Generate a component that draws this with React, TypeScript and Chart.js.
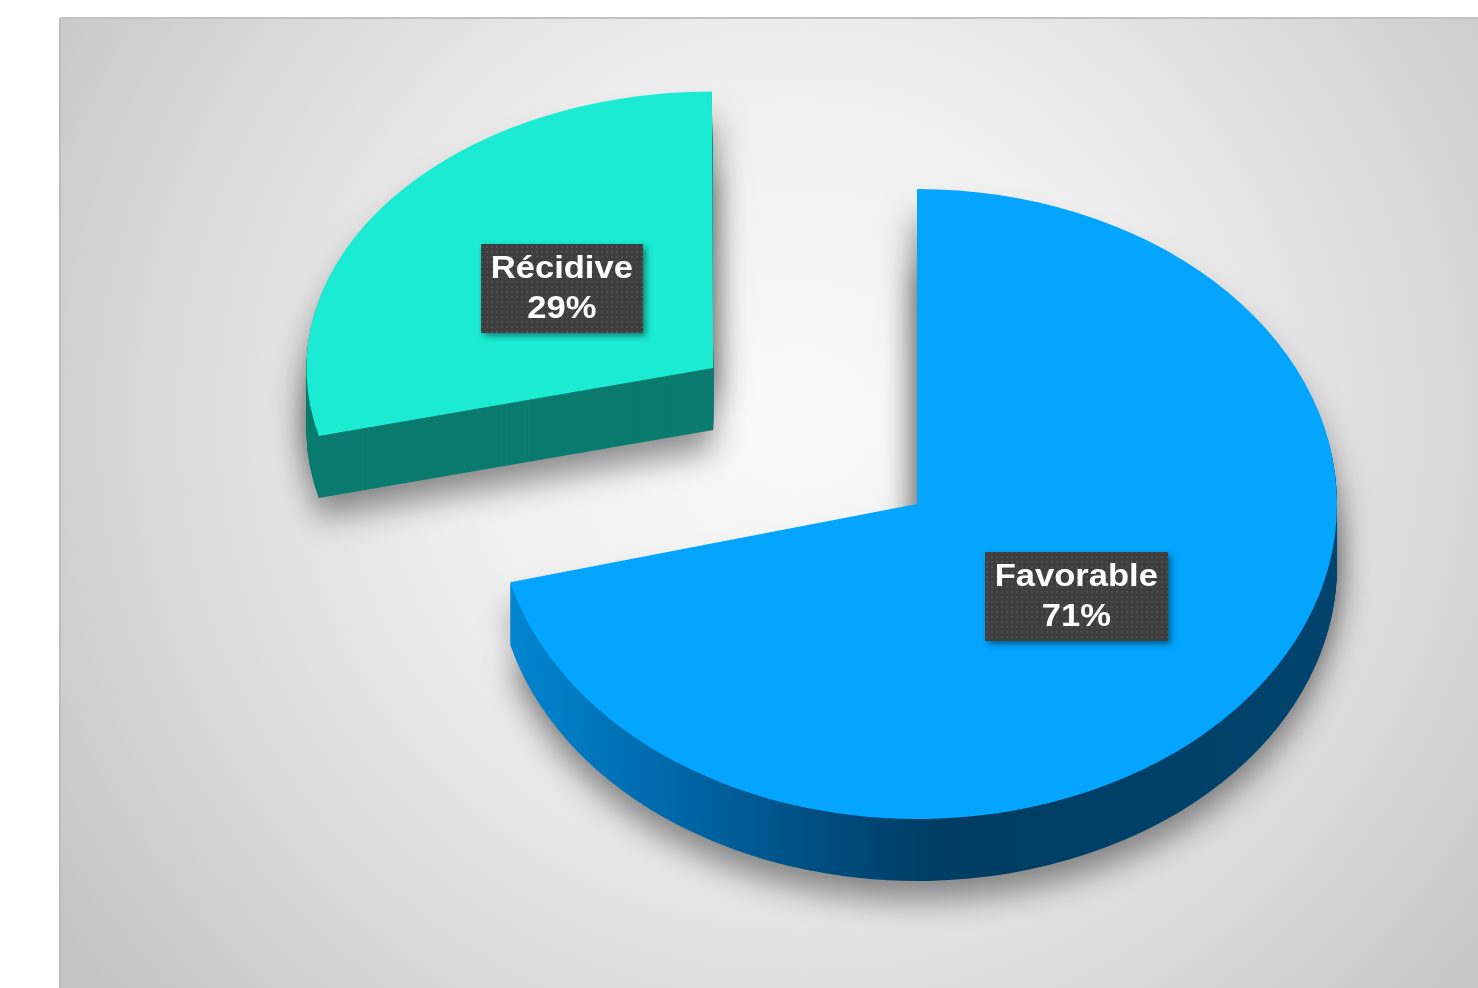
import { useEffect, useRef } from 'react';
import { Chart, registerables } from 'chart.js';

Chart.register(...registerables);

// ---- data ----
const categories = ['Favorable', 'Récidive'];
const shares = [71, 29];
const percentLabels = ['71%', '29%'];

// ---- styling ----
const topColors = ['#03A5FF', '#1BEBD3'];
const sliceTilt = [0.75, 0.68]; // per-slice vertical squash (fake perspective)
const sliceShrink = [1, 0.95]; // per-slice size factor (fake perspective)
const W = 1478;
const H = 988;
const KC = 0.86; // squash applied to the explosion shift
const DEPTH = 62; // thickness of the slab
const TEXT_STRETCH = 1.08;

function makePattern(ctx: CanvasRenderingContext2D) {
  const c = document.createElement('canvas');
  c.width = 5;
  c.height = 5;
  const p = c.getContext('2d')!;
  p.fillStyle = '#3e3e3e';
  p.fillRect(0, 0, 5, 5);
  p.fillStyle = '#4f4f4f';
  p.fillRect(1, 1, 2, 2);
  return ctx.createPattern(c, 'repeat');
}

function sliceGeom(arc: any, i: number) {
  const mid = (arc.startAngle + arc.endAngle) / 2;
  const off = (arc.options.offset || 0) / 4;
  const ox = Math.cos(mid) * off;
  const oy = Math.sin(mid) * off;
  const wx = arc.x + ox; // slice centre, unsquashed
  const wy = arc.y + oy;
  const sy = arc.y + oy * KC; // slice centre on screen
  return { mid, off, ox, oy, wx, wy, sy, k: sliceTilt[i], s: sliceShrink[i] };
}

const pie3d = {
  id: 'pie3d',
  beforeDraw(chart: any) {
    const ctx: CanvasRenderingContext2D = chart.ctx;
    ctx.save();
    ctx.fillStyle = '#ffffff';
    ctx.fillRect(0, 0, W, H);
    const g = ctx.createRadialGradient(800, 420, 0, 800, 420, 900);
    g.addColorStop(0, '#fafafa');
    g.addColorStop(0.4, '#eeeeee');
    g.addColorStop(0.8, '#d3d3d3');
    g.addColorStop(1, '#c4c4c4');
    ctx.fillStyle = g;
    ctx.fillRect(60, 18, W - 60, H - 18);
    ctx.fillStyle = '#c2c2c2';
    ctx.fillRect(60, 17, W - 60, 2);
    ctx.fillStyle = '#bdbdbd';
    ctx.fillRect(59, 18, 2, H - 18);
    ctx.restore();
  },
  beforeDatasetsDraw(chart: any) {
    const ctx: CanvasRenderingContext2D = chart.ctx;
    const meta = chart.getDatasetMeta(0);
    const arcs = meta.data;
    if (!arcs.length) return;
    const drawArc = (arc: any, i: number, fill: any, dx: number, dy: number) => {
      const gm = sliceGeom(arc, i);
      const clone = Object.create(arc);
      clone.options = Object.assign({}, arc.options, { backgroundColor: fill, borderWidth: 0 });
      ctx.save();
      ctx.translate(dx, dy);
      ctx.translate(gm.wx, gm.sy);
      ctx.scale(gm.s, gm.k * gm.s);
      ctx.translate(-gm.wx, -gm.wy);
      clone.draw(ctx);
      ctx.restore();
    };

    // soft floor shadow
    ctx.save();
    ctx.shadowColor = 'rgba(0,0,0,0.4)';
    ctx.shadowBlur = 30;
    ctx.shadowOffsetX = 0;
    ctx.shadowOffsetY = 20;
    arcs.forEach((arc: any, i: number) => drawArc(arc, i, '#9a9a9a', 0, DEPTH));
    ctx.restore();
    ctx.save();
    ctx.shadowColor = 'rgba(0,0,0,0.5)';
    ctx.shadowBlur = 34;
    ctx.shadowOffsetX = 0;
    ctx.shadowOffsetY = 0;
    arcs.forEach((arc: any, i: number) => drawArc(arc, i, '#9a9a9a', 0, DEPTH / 2));
    ctx.restore();

    // side walls
    const blueWall = ctx.createLinearGradient(510, 0, 1340, 0);
    blueWall.addColorStop(0, '#0086D0');
    blueWall.addColorStop(0.2, '#0067A8');
    blueWall.addColorStop(0.36, '#004F82');
    blueWall.addColorStop(0.52, '#003C63');
    blueWall.addColorStop(1, '#00446D');
    const wallFills = [blueWall, '#0B7B6F'];
    arcs.forEach((arc: any, i: number) => {
      for (let d = DEPTH; d >= 1; d--) drawArc(arc, i, wallFills[i], 0, d);
    });

    // top faces
    arcs.forEach((arc: any, i: number) => drawArc(arc, i, arc.options.backgroundColor, 0, 0));
    return false;
  },
  afterDraw(chart: any) {
    const ctx: CanvasRenderingContext2D = chart.ctx;
    const meta = chart.getDatasetMeta(0);
    const pattern = makePattern(ctx);
    meta.data.forEach((arc: any, i: number) => {
      const gm = sliceGeom(arc, i);
      const rr = arc.outerRadius * 0.48 * gm.s;
      const lx = gm.wx + Math.cos(gm.mid) * rr;
      const ly = gm.sy + Math.sin(gm.mid) * rr * gm.k;
      const lines = [categories[i], percentLabels[i]];
      ctx.save();
      ctx.font = 'bold 32px "Liberation Sans", Arial, sans-serif';
      const tw = Math.max(...lines.map((t) => ctx.measureText(t).width)) * TEXT_STRETCH;
      const bw = tw + 20;
      const bh = 89;
      ctx.shadowColor = 'rgba(0,0,0,0.45)';
      ctx.shadowBlur = 6;
      ctx.shadowOffsetX = 3;
      ctx.shadowOffsetY = 3;
      ctx.fillStyle = pattern || '#404040';
      ctx.fillRect(Math.round(lx - bw / 2), Math.round(ly - bh / 2), Math.round(bw), bh);
      ctx.shadowColor = 'transparent';
      ctx.fillStyle = '#ffffff';
      ctx.textAlign = 'center';
      ctx.textBaseline = 'middle';
      lines.forEach((t, j) => {
        ctx.save();
        ctx.translate(lx, ly - 20 + j * 40);
        ctx.scale(TEXT_STRETCH, 1);
        ctx.fillText(t, 0, 1);
        ctx.restore();
      });
      ctx.restore();
    });
  },
};

export default function App() {
  const ref = useRef<HTMLCanvasElement | null>(null);
  useEffect(() => {
    const canvas = ref.current;
    if (!canvas) return;
    const chart = new Chart(canvas, {
      type: 'pie',
      data: {
        labels: categories,
        datasets: [
          {
            data: shares,
            backgroundColor: topColors,
            borderWidth: 0,
            offset: [0, 1032],
            clip: false,
          } as any,
        ],
      },
      options: {
        responsive: false,
        animation: false,
        devicePixelRatio: 1,
        radius: 420,
        cutout: '0%',
        rotation: 0,
        layout: { padding: { left: 356, right: 0, top: 20, bottom: 0 } },
        plugins: {
          legend: { display: false },
          tooltip: { enabled: false },
        },
        events: [],
      } as any,
      plugins: [pie3d],
    });
    return () => chart.destroy();
  }, []);
  return (
    <div style={{ position: 'fixed', left: 0, top: 0, width: W, height: H, background: '#fff' }}>
      <canvas ref={ref} width={W} height={H} style={{ width: W, height: H, display: 'block' }} />
    </div>
  );
}
